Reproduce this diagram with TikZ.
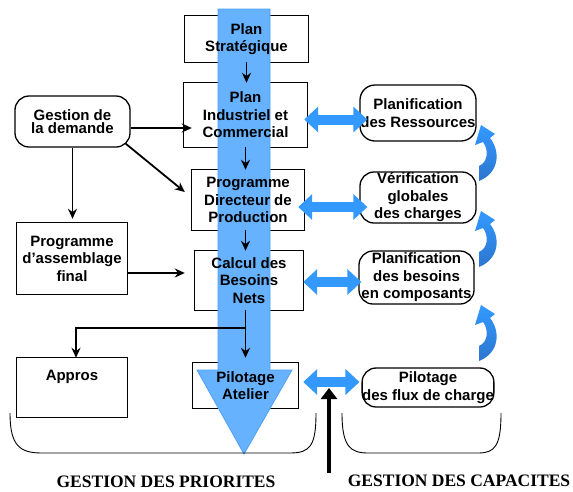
\documentclass[tikz,border=0pt]{standalone}
\usepackage{fontspec}
\setmainfont{Liberation Sans}
\newfontfamily\titlefont{Liberation Serif}
\usetikzlibrary{arrows.meta,calc}
\pgfdeclarelayer{back}
\pgfdeclarelayer{mid}
\pgfsetlayers{back,mid,main}
\definecolor{bandblue}{RGB}{102,178,255}
\definecolor{bandedge}{RGB}{77,160,245}
\definecolor{arrowblue}{RGB}{51,153,255}
\definecolor{darkblue}{RGB}{44,118,208}

\begin{document}
\begin{tikzpicture}[x=1pt,y=-1pt]
\tikzstyle{box}=[rectangle,align=center,inner sep=0pt,font=\bfseries\fontsize{15}{17.5}\selectfont]
\tikzstyle{rbox}=[box,draw=black,line width=1.3pt,rounded corners=14pt,fill=white]
\tikzstyle{arr}=[line width=1.8pt,-{Stealth[length=10pt,width=9pt]}]
\tikzstyle{dbl}=[arrowblue,line width=10pt,{Triangle[width=25pt,length=14pt]}-{Triangle[width=25pt,length=14pt]}]
\tikzstyle{brace}=[line width=0.9pt]
\tikzstyle{title}=[font=\titlefont\bfseries\fontsize{17.5}{20}\selectfont]
\useasboundingbox (0,0) rectangle (573,491);

\node[box,minimum width=123pt,minimum height=46pt] (strat) at (246.5,39) {Plan\\Stratégique};
\node[box,minimum width=123pt,minimum height=64pt] (pic) at (245.5,115) {Plan\\Industriel et\\Commercial};
\node[box,minimum width=112pt,minimum height=60pt] (pdp) at (248,200) {Programme\\Directeur de\\Production};
\node[box,minimum width=108pt,minimum height=59pt] (cbn) at (249,280.5) {Calcul des\\Besoins\\Nets};
\node[box,minimum width=105pt,minimum height=45pt] (pa) at (245.5,385.5) {Pilotage\\Atelier};
\node[rbox,minimum width=115pt,minimum height=51pt] (gdd) at (72.5,121.5) {Gestion de\\[-4pt]la demande};
\node[box,minimum width=110pt,minimum height=71pt] (paf) at (72,258.5) {Programme\\d’assemblage\\final};
\node[box,minimum width=110pt,text height=22pt,text depth=37pt] (appros) at (72,387.5) {Appros};

\node[rbox,minimum width=116pt,minimum height=56pt,rounded corners=15pt] (pr) at (418,113) {Planification\\des Ressources};
\node[rbox,minimum width=116pt,minimum height=51pt] (vgc) at (418,197.5) {Vérification\\globales\\des charges};
\node[rbox,minimum width=115pt,minimum height=53pt] (pbc) at (416.5,277.5) {Planification\\des besoins\\en composants};
\node[rbox,minimum width=128pt,minimum height=39pt] (pfc) at (428,387.5) {Pilotage\\des flux de charge};

\node[title] (prio) at (166,482) {GESTION DES PRIORITES};
\node[title] (capa) at (459,481) {GESTION DES CAPACITES};

\begin{pgfonlayer}{back}
\foreach \n in {strat,pic,pdp,cbn,pa,paf,appros}
  \draw[line width=1.3pt] (\n.south west) rectangle (\n.north east);
\end{pgfonlayer}

\begin{pgfonlayer}{mid}
\filldraw[fill=bandblue,draw=bandedge,line width=0.8pt] (218,9) -- (270,9) -- (270,370) -- (292,370) -- (244,454) -- (197,370) -- (218,370) -- cycle;
\end{pgfonlayer}

\draw[arr] (strat.south) -- (strat.south |- pic.north);
\draw[arr] (pic.south) -- (pic.south |- pdp.north);
\draw[arr] (pic.south |- pdp.south) -- (pic.south |- cbn.north);
\draw[arr,shorten >=5pt] (pic.south |- cbn.south) -- (pic.south |- pa.north);
\draw[arr] (pic.south |- 0,328) -| ([xshift=4pt]appros.north);
\draw[arr,shorten >=-8pt] (gdd.east |- 0,128) -- (pic.west |- 0,128);
\draw[arr] ($(gdd.south east)+(-5,-4)$) -- ($(pdp.west)+(-7,-8)$);
\draw[arr,shorten >=4pt] (gdd.south) -- (gdd.south |- paf.north);
\draw[arr,shorten >=10pt] (paf.east |- 0,273) -- (cbn.west |- 0,273);

\draw[dbl,shorten <=-3pt,shorten >=-8pt] (pic.east |- 0,119.5) -- (pr.west |- 0,119.5);
\draw[dbl,shorten <=-6pt,shorten >=-8pt] (pdp.east |- 0,207) -- (vgc.west |- 0,207);
\draw[dbl,shorten >=-3pt] (cbn.east |- 0,282) -- (pbc.west |- 0,282);
\draw[dbl,shorten <=5pt,shorten >=2pt] (pa.east |- 0,382) -- (pfc.west |- 0,382);

\foreach \dy in {0,86,180}
  \shade[top color=arrowblue,bottom color=darkblue,shift={(0,\dy)}] (481,125) -- (495,134) -- (490,138) .. controls (501,152) and (499,173) .. (479,181) -- (479,166) .. controls (488,162) and (489,150) .. (483,142) -- (475,145) -- cycle;

\draw[brace] (10,413) .. controls (10,446) and (20,453) .. (42,453) -- (290,453) .. controls (310,453) and (316,446) .. (316,413);
\draw[brace] (342,413) .. controls (342,446) and (350,453) .. (368,453) -- (478,453) .. controls (495,453) and (501,446) .. (501,413);

\coordinate (bas) at (329,473);
\coordinate (haut) at (329,388);
\draw[line width=4pt,-{Triangle[width=16pt,length=11pt]}] (bas) -- (haut);
\end{tikzpicture}
\end{document}
